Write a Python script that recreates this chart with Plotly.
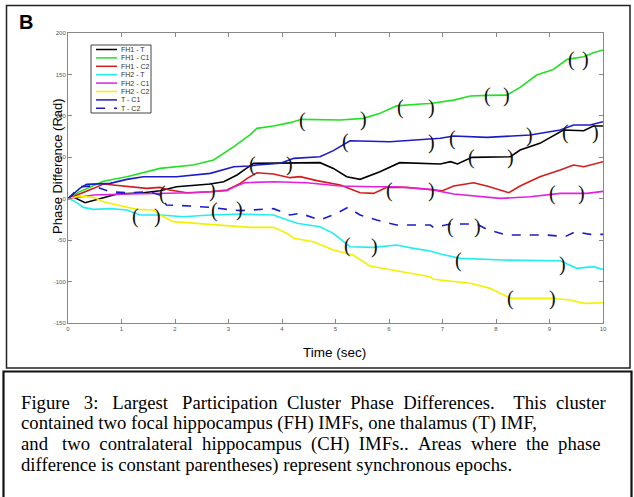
import plotly.graph_objects as go

# ---------------- data ----------------
series_names = ["FH1 - T", "FH1 - C1", "FH1 - C2", "FH2 - T", "FH2 - C1", "FH2 - C2", "T - C1", "T - C2"]

fh1_t_x = [0, 0.1, 0.32, 0.66, 0.92, 1.41, 1.72, 2.03, 2.34, 2.66, 2.91, 3.16, 3.3, 3.47, 3.9, 4.71, 4.96,
           5.21, 5.46, 5.83, 6.2, 6.77, 6.96, 7.15, 7.28, 7.55, 8.27, 8.45, 8.82, 9.26, 9.64, 9.82, 10]
fh1_t_y = [0, 2, -4.8, 1.6, 5.6, 7.2, 9.7, 14.5, 16.5, 17.7, 20.5, 28.6, 35, 42.7, 43, 43.5, 36.6,
           26.6, 23.4, 32.6, 43.5, 41.9, 41.9, 44.7, 41.9, 49.9, 50.7, 58.8, 66.8, 82.9, 82, 87.7, 87.7]

fh1_c1_x = [0, 0.2, 0.48, 0.66, 1.1, 1.72, 2.34, 2.72, 3.1, 3.4, 3.53, 3.84, 4.15, 4.37, 5.09, 5.52, 5.83,
            6.14, 6.59, 6.77, 7.21, 7.52, 7.83, 8.2, 8.45, 8.76, 9.07, 9.33, 9.64, 9.82, 10]
fh1_c1_y = [0, 8, 16, 21, 26.5, 36.6, 40.6, 46.7, 62.8, 77, 84.9, 87.7, 91.8, 95.8, 95, 97, 103,
            112, 114.3, 115, 119, 124, 124.7, 125, 134.4, 149.3, 156, 168.2, 171.4, 176.2, 179.5]

fh1_c2_x = [0, 0.23, 0.48, 0.66, 0.85, 1.1, 1.47, 1.72, 1.9, 2.22, 2.66, 2.97, 3.22, 3.35, 3.53, 3.84, 4.15,
            4.34, 4.65, 5.09, 5.46, 5.71, 5.96, 6.33, 6.77, 7.0, 7.21, 7.58, 7.83, 8.24, 8.45, 8.82, 9.2,
            9.45, 9.64, 9.82, 10]
fh1_c2_y = [0, 5.6, 12.5, 17.7, 16.5, 14.5, 12.5, 13.7, 10.5, 7.2, 8.4, 10.5, 18.5, 24.6, 31.4, 29.8, 25.4,
            26.6, 21.8, 16.5, 7.2, 6.4, 13.7, 13.7, 10.5, 9.7, 15.3, 19.3, 15.3, 7.2, 15.3, 26.6, 34.6,
            40.7, 38.6, 41.9, 44.7]

fh2_t_x = [0, 0.1, 0.29, 0.48, 0.79, 1.1, 1.35, 1.72, 2.16, 2.66, 3.22, 3.84, 4.28, 4.71, 4.96, 5.15, 5.27,
           5.71, 6.14, 6.46, 6.77, 6.96, 7.33, 8.14, 9.2, 9.51, 9.82, 10]
fh2_t_y = [0, -2, -10.5, -12.9, -12, -13.7, -19.7, -19.7, -21.7, -19.7, -18.5, -19.7, -29.7, -33.8, -41.8,
           -51.9, -57.9, -58.7, -55.9, -59.9, -63.1, -66.7, -72, -74, -74.8, -84, -82, -85.3]

fh2_c1_x = [0, 0.48, 1.1, 1.72, 2.34, 2.97, 3.1, 3.3, 3.84, 4.46, 5.09, 5.71, 6.14, 6.77, 7.21, 8.08, 8.64,
            9.2, 9.7, 10]
fh2_c1_y = [0, 4.4, 5.6, 6.4, 7.2, 9.7, 14, 19.3, 20.5, 19.3, 15.3, 14.5, 14.5, 11.3, 5.6, 0.4, 2.4,
            6.4, 6.4, 8.9]

fh2_c2_x = [0, 0.2, 0.48, 0.66, 0.92, 1.29, 1.6, 1.72, 1.97, 2.34, 2.85, 3.4, 3.84, 4.1, 4.22, 4.59, 4.96,
            5.33, 5.64, 6.02, 6.46, 6.77, 6.83, 7.52, 7.89, 8.27, 9.02, 9.39, 9.64, 10]
fh2_c2_y = [0, 3, 1.6, -3.6, -7.6, -12.9, -13.7, -19.7, -27.7, -29.7, -31.7, -34.6, -34.6, -42, -47.8, -51.9,
            -61.9, -68, -81.2, -85.3, -90.9, -94.1, -97.3, -102.1, -108.2, -120.2, -120.2, -122.3, -126.3,
            -125.5]

t_c1_x = [0, 0.22, 0.35, 0.79, 1.1, 1.41, 2.03, 2.66, 3.1, 3.4, 3.53, 3.97, 4.22, 4.71, 4.96, 5.15, 5.27,
          6.02, 6.77, 6.96, 7.21, 7.83, 8.64, 9.2, 9.45, 9.76, 10]
t_c1_y = [0, 12.5, 17.3, 18.5, 23.3, 26.5, 26.5, 30.6, 38.6, 39.4, 40.7, 42.7, 48.7, 50.7, 58, 64.8, 70,
          68.8, 71.6, 72.9, 75.7, 74, 76.9, 82.9, 89, 89, 93]

t_c2_x = [0, 0.23, 0.48, 0.6, 0.79, 1.1, 1.53, 1.72, 1.84, 2.28, 2.66, 2.97, 3.22, 3.84, 4.15, 4.34, 4.71,
          5.02, 5.23, 5.46, 5.77, 6.14, 6.77, 6.83, 7.15, 7.64, 7.83, 8.2, 8.58, 8.95, 9.29, 9.48, 9.76, 10]
t_c2_y = [0, 14.5, 15.5, 12.5, 8.4, 7.2, 8.4, 4.4, -7.6, -8.8, -10.5, -12.9, -14.4, -12, -19.7, -17.7, -25.7,
          -17.7, -10.4, -19.7, -25.7, -31.7, -31.7, -34.6, -30.5, -30.5, -37, -43.8, -43.8, -43.8, -45.8,
          -39.8, -43, -43]

# synchronous-epoch parentheses (x, y, glyph)
sync_x = [1.258, 1.675, 1.757, 2.710, 2.735, 3.207, 3.454, 4.133, 4.389, 5.520, 5.193, 6.785,
          6.211, 6.785, 6.011, 6.785, 7.178, 8.628, 7.551, 8.267, 7.832, 8.193, 9.402, 9.682,
          9.295, 9.856, 9.058, 9.589, 7.146, 7.645, 5.215, 5.725, 7.301, 9.245, 8.267, 9.047]
sync_y = [-21.7, -20.9, 5.7, 9.4, -13.8, -12.8, 41.9, 41.9, 94.6, 95.3, 68.8, 67.6,
          110.3, 110.3, 10.5, 9.7, 72.9, 75.7, 50, 50, 124, 124, 168.2, 168.2,
          79.7, 79.7, 6.3, 5.7, -33.8, -33.8, -56.2, -57.1, -74, -78.8, -120.2, -120.2]
sync_g = ["(", ")"] * 18

x_ticks = list(range(0, 11))
y_ticks = [-150, -100, -50, 0, 50, 100, 150, 200]

caption_lines = [
    "Figure 3: Largest Participation Cluster Phase Differences.  This cluster",
    "contained two focal hippocampus (FH) IMFs, one thalamus (T) IMF,",
    "and two contralateral hippocampus (CH) IMFs.. Areas where the phase",
    "difference is constant parentheses) represent synchronous epochs.",
]
# justified lines (widened word gaps) and how many gaps get one more space
caption_justified = [True, False, True, False]
caption_extra = [3, 0, 1, 0]

# ---------------- styling ----------------
colors = ["#000000", "#22e022", "#d41c1c", "#22eeee", "#e022e0", "#f2f200", "#1c1cc8", "#1c1cc8"]
dashes = ["solid"] * 7 + ["dash"]
xs = [fh1_t_x, fh1_c1_x, fh1_c2_x, fh2_t_x, fh2_c1_x, fh2_c2_x, t_c1_x, t_c2_x]
ys = [fh1_t_y, fh1_c1_y, fh1_c2_y, fh2_t_y, fh2_c1_y, fh2_c2_y, t_c1_y, t_c2_y]

W_FIG, H_FIG = 634, 497
L, T, PW, PH = 68, 33, 535, 290


def fx(px):
    return (px - L) / PW


def fy(py):
    return (T + PH - py) / PH


def justify(line, extra):
    parts = line.split(" ")
    out = parts[0]
    for i, p in enumerate(parts[1:]):
        out += "\u00a0\u00a0" + ("\u00a0" if i < extra else "") + p
    return out


fig = go.Figure()
for name, x, y, c, d in zip(series_names, xs, ys, colors, dashes):
    fig.add_trace(go.Scatter(x=x, y=y, mode="lines", name=name,
                             line=dict(color=c, width=1.6, dash=d), showlegend=False))

annotations = []
for x, y, g in zip(sync_x, sync_y, sync_g):
    annotations.append(dict(x=x, y=y, xref="x", yref="y", text=g, showarrow=False,
                            font=dict(family="Liberation Serif", size=20, color="#111")))

shapes = []
# outer panel frame
shapes.append(dict(type="rect", xref="paper", yref="paper", x0=fx(6.5), x1=fx(630), y0=fy(368), y1=fy(5.5),
                   line=dict(color="#222", width=1.5), layer="below"))
# caption frame
shapes.append(dict(type="rect", xref="paper", yref="paper", x0=fx(3.5), x1=fx(631.5), y0=fy(500), y1=fy(371.5),
                   line=dict(color="#111", width=2.2), layer="below"))

# manual legend
shapes.append(dict(type="rect", xref="paper", yref="paper", x0=fx(91), x1=fx(151), y0=fy(113), y1=fy(45),
                   line=dict(color="#444", width=1), fillcolor="white", layer="above"))
for i, (name, c, d) in enumerate(zip(series_names, colors, dashes)):
    yy = 49.5 + i * 8.4
    shapes.append(dict(type="line", xref="paper", yref="paper", x0=fx(96), x1=fx(117), y0=fy(yy), y1=fy(yy),
                       line=dict(color=c, width=1.5, dash=d), layer="above"))
    annotations.append(dict(x=fx(118.5), y=fy(yy), xref="paper", yref="paper", text=name, showarrow=False,
                            xanchor="left", yanchor="middle",
                            font=dict(family="Liberation Sans", size=7, color="#333")))

# panel letter, axis titles
annotations.append(dict(x=fx(17), y=fy(22.5), xref="paper", yref="paper", text="<b>B</b>", showarrow=False,
                        xanchor="left", yanchor="middle",
                        font=dict(family="Liberation Sans", size=20, color="#000")))
annotations.append(dict(x=fx(57), y=fy(166), xref="paper", yref="paper", text="Phase Difference (Rad)",
                        showarrow=False, textangle=-90, xanchor="center", yanchor="middle",
                        font=dict(family="Liberation Sans", size=13, color="#000")))
annotations.append(dict(x=fx(334), y=fy(352), xref="paper", yref="paper", text="Time (sec)",
                        showarrow=False, xanchor="center", yanchor="middle",
                        font=dict(family="Liberation Sans", size=13.5, color="#000")))
for i, (line, just, extra) in enumerate(zip(caption_lines, caption_justified, caption_extra)):
    txt = justify(line, extra) if just else line
    annotations.append(dict(x=fx(19), y=fy(402 + i * 21), xref="paper", yref="paper", text=txt,
                            showarrow=False, xanchor="left", yanchor="middle",
                            font=dict(family="Liberation Serif", size=18.7, color="#000")))

axis_common = dict(showgrid=False, zeroline=False, showline=True, linecolor="#888", linewidth=1,
                   mirror="ticks", ticks="inside", ticklen=4, tickcolor="#888",
                   tickfont=dict(family="Liberation Sans", size=6, color="#555"))

fig.update_layout(
    width=W_FIG, height=H_FIG,
    margin=dict(l=L, r=W_FIG - L - PW, t=T, b=H_FIG - T - PH),
    paper_bgcolor="white", plot_bgcolor="white",
    xaxis=dict(range=[0, 10], tickvals=x_ticks, ticktext=[str(v) for v in x_ticks], **axis_common),
    yaxis=dict(range=[-150, 200], tickvals=y_ticks, ticktext=[str(v) for v in y_ticks], **axis_common),
    annotations=annotations, shapes=shapes, showlegend=False,
)

fig.write_html("out.html", config={"displayModeBar": False},
               post_script="document.body.style.margin='0';document.body.style.overflow='hidden';")
